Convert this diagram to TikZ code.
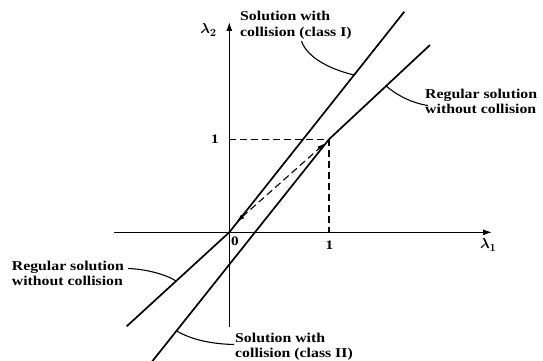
\documentclass[tikz,border=0pt]{standalone}
\usepackage{fontspec}
\setmainfont[FakeStretch=1.17]{Liberation Serif}
\usetikzlibrary{arrows.meta,calc}
\begin{document}
\begin{tikzpicture}[x=1pt,y=-1pt,
  axis/.style={line width=1.2pt,-{Latex[length=9pt,width=6pt]}},
  solidline/.style={line width=1.7pt},
  guide/.style={line width=1.1pt,dash pattern=on 7pt off 4pt},
  dblarrow/.style={line width=1.1pt,dash pattern=on 7pt off 4pt,{Latex[length=8pt,width=5pt]}-{Latex[length=8pt,width=5pt]}},
  leader/.style={line width=1.1pt},
  lbl/.style={font=\fontsize{13.5}{15.8}\selectfont\bfseries,align=left,inner sep=0pt},
  num/.style={font=\fontsize{13}{15}\selectfont\bfseries,inner sep=0pt},
  sym/.style={font=\boldmath\fontsize{15}{17}\selectfont,inner sep=0pt}]
\useasboundingbox (0,0) rectangle (543,361);
% key points
\coordinate (O) at (229.3,232.3);
\coordinate (P) at (329,139.3);
\coordinate (Ddown) at (126.7,326.3);
\coordinate (Dup) at (430,45);
\coordinate (Sup) at (404.3,11.7);
\coordinate (Sdown) at (151.7,362);
\coordinate (Xl) at (114,232.3);
\coordinate (Xr) at (492,232.3);
\coordinate (Yb) at (229.3,326.5);
\coordinate (Yt) at (229.3,22);
\coordinate (Y1) at (229.3,139.3);
\coordinate (X1) at (329,232.3);
% axes
\draw[axis] (Xl) -- (Xr);
\draw[axis] (Yb) -- (Yt);
% solution lines
\draw[solidline] (Ddown) -- (O) -- (Sup);
\draw[solidline] (Sdown) -- (P) -- (Dup);
% dashed guides
\draw[guide] (Y1) -- (P) -- (X1);
\coordinate (Aa) at (236.7,221.7);
\coordinate (Ab) at (325,143.3);
\draw[dblarrow] (Aa) -- (Ab);
% labels
\node[sym] (l2) at (208.5,30) {$\lambda_2$};
\node[sym] (l1) at (488.3,245) {$\lambda_1$};
\node[num] (n1y) at (215,139.5) {1};
\node[num] (n1x) at (329.5,245) {1};
\node[num] (n0) at (235,241.5) {0};
\node[lbl,anchor=west] (tI) at (240,25.5) {Solution with\\collision (class I)};
\node[lbl,anchor=west] (tR) at (425,101.3) {Regular solution\\without collision};
\node[lbl,anchor=west] (tL) at (11.7,273.3) {Regular solution\\without collision};
\node[lbl,anchor=west] (tII) at (235,346.7) {Solution with\\collision (class II)};
% leaders
\coordinate (c1s) at (301.5,41);
\coordinate (c1e) at ($(O)!0.713!(Sup)$);
\draw[leader] (c1s) .. controls (306,55) and (325,68) .. (c1e);
\coordinate (c2s) at ($(P)!0.565!(Dup)$);
\coordinate (c2e) at (428,105.5);
\draw[leader] (c2s) .. controls (398,96) and (412,103) .. (c2e);
\coordinate (c3s) at (128,268.5);
\coordinate (c3e) at ($(O)!0.518!(Ddown)$);
\draw[leader] (c3s) .. controls (145,269) and (165,274) .. (c3e);
\coordinate (c4s) at ($(P)!0.86!(Sdown)$);
\coordinate (c4e) at (234,344.5);
\draw[leader] (c4s) .. controls (190,339) and (210,344) .. (c4e);
\end{tikzpicture}
\end{document}
